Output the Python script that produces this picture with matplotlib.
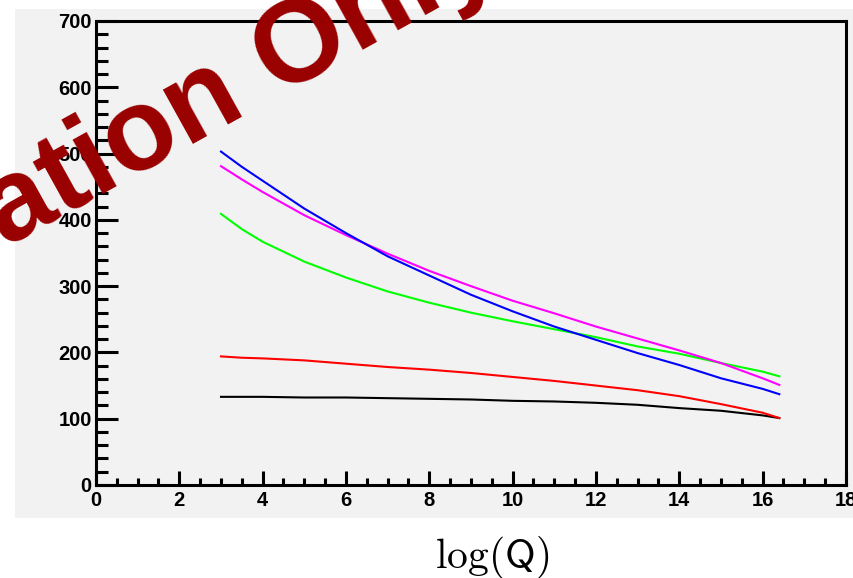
import matplotlib
matplotlib.use('Agg')
import matplotlib.pyplot as plt
from matplotlib.patches import Rectangle
from matplotlib.ticker import MultipleLocator

plt.rcParams['font.family'] = ['Liberation Sans', 'DejaVu Sans']
plt.rcParams['mathtext.fontset'] = 'cm'

# values
logq = [3, 3.5, 4, 5, 6, 7, 8, 9, 10, 11, 12, 13, 14, 15, 16, 16.4]
blue = [503, 480, 459, 417, 380, 345, 316, 287, 262, 239, 219, 199, 181, 161, 145, 137]
magenta = [481, 461, 442, 407, 377, 349, 323, 300, 278, 259, 239, 221, 203, 184, 161, 151]
green = [409, 386, 367, 337, 313, 292, 275, 260, 247, 235, 223, 209, 198, 184, 171, 164]
red = [194, 192, 191, 188, 183, 178, 174, 169, 163, 157, 150, 143, 134, 122, 109, 101]
black = [133, 133, 133, 132, 132, 131, 130, 129, 127, 126, 124, 121, 116, 112, 105, 101]

W, H = 854, 578
fig = plt.figure(figsize=(W / 100, H / 100), dpi=100)
fig.patch.set_facecolor('white')

# grey canvas pad
fig.patches.append(Rectangle((15 / W, 1 - 518 / H), 1 - 15 / W, (518 - 9) / H,
                             transform=fig.transFigure, facecolor='#f2f2f2',
                             edgecolor='none', zorder=-10))

ax = fig.add_axes([96 / W, 1 - 485 / H, (846 - 96) / W, (485 - 21) / H])
ax.set_facecolor('#f2f2f2')

ax.plot(logq, black, color='black', lw=1.5)
ax.plot(logq, red, color='#ff0000', lw=1.5)
ax.plot(logq, green, color='#00ff00', lw=1.5)
ax.plot(logq, magenta, color='#ff00ff', lw=1.5)
ax.plot(logq, blue, color='#0000ff', lw=1.5)

ax.set_xlim(0, 18)
ax.set_ylim(0, 700)
ax.xaxis.set_major_locator(MultipleLocator(2))
ax.xaxis.set_minor_locator(MultipleLocator(0.5))
ax.yaxis.set_major_locator(MultipleLocator(100))
ax.yaxis.set_minor_locator(MultipleLocator(20))

for s in ax.spines.values():
    s.set_linewidth(2.2)
ax.tick_params(which='both', direction='in', width=2.2, top=False, right=False)
ax.tick_params(axis='x', which='major', length=10, pad=4)
ax.tick_params(axis='x', which='minor', length=5)
ax.tick_params(axis='y', which='major', length=16, pad=3)
ax.tick_params(axis='y', which='minor', length=8.5)
for lab in ax.get_xticklabels() + ax.get_yticklabels():
    lab.set_fontsize(14.5)
    lab.set_fontweight('bold')

fig.text(492 / W, 1 - 568 / H, r'$\log(\mathsf{Q})$', fontsize=30,
         ha='center', va='baseline')

# watermark
fig.text(5 / W, 1 - 248 / H, 'ation Only', fontsize=84, fontweight='bold',
         color='#990000', rotation=29, rotation_mode='anchor',
         ha='left', va='baseline', zorder=10)

fig.savefig('out.png', dpi=100)
